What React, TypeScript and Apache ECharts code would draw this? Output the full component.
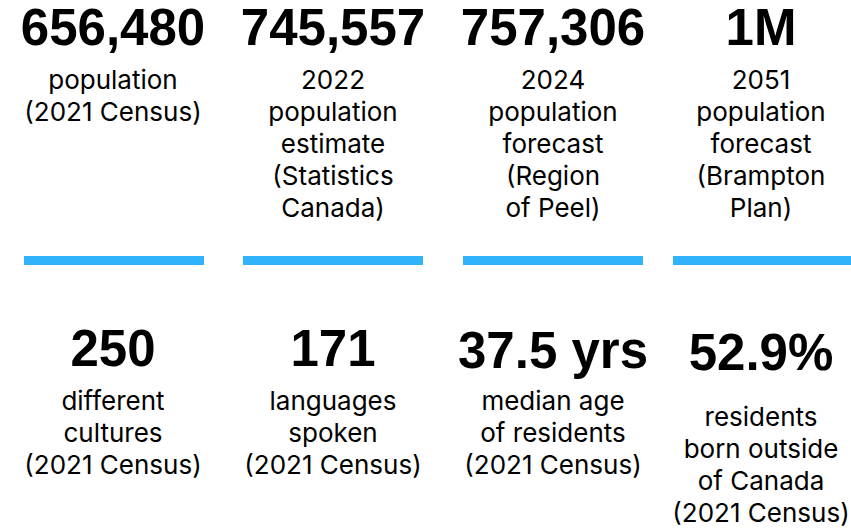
import React, { useEffect, useRef } from "react";
import * as echarts from "echarts";

const topValues = ["656,480", "745,557", "757,306", "1M"];
const topLabels = [
  ["population", "(2021 Census)"],
  ["2022", "population", "estimate", "(Statistics", "Canada)"],
  ["2024", "population", "forecast", "(Region", "of Peel)"],
  ["2051", "population", "forecast", "(Brampton", "Plan)"],
];
const bottomValues = ["250", "171", "37.5 yrs", "52.9%"];
const bottomLabels = [
  ["different", "cultures", "(2021 Census)"],
  ["languages", "spoken", "(2021 Census)"],
  ["median age", "of residents", "(2021 Census)"],
  ["residents", "born outside", "of Canada", "(2021 Census)"],
];

const colCenters = [113, 333, 553, 761];
const barSpans = [
  [24, 204],
  [243, 423],
  [463, 643],
  [673, 851],
];
const bottomLabelStart = [400, 400, 400, 416];
const bottomValueY = [348, 348, 350, 352];

export default function App() {
  const ref = useRef<HTMLDivElement>(null);
  useEffect(() => {
    if (!ref.current) return;
    const chart = echarts.init(ref.current, null, { renderer: "svg" });
    const numFont = "'Liberation Sans', Arial, sans-serif";
    const labFont = "Inter, 'Liberation Sans', sans-serif";
    const elements: any[] = [];
    topValues.forEach((v, i) => {
      elements.push({
        type: "text",
        x: colCenters[i],
        y: 27,
        style: {
          text: v,
          fontFamily: numFont,
          fontWeight: "bold",
          fontSize: 51,
          fill: "#000",
          align: "center",
          verticalAlign: "middle",
        },
      });
      elements.push({
        type: "text",
        x: colCenters[i],
        y: 79 - 16,
        style: {
          text: topLabels[i].join("\n"),
          fontFamily: labFont,
          fontSize: 26,
          lineHeight: 32,
          fill: "#000",
          align: "center",
          verticalAlign: "top",
        },
      });
      elements.push({
        type: "rect",
        shape: {
          x: barSpans[i][0],
          y: 256,
          width: barSpans[i][1] - barSpans[i][0],
          height: 9,
        },
        style: { fill: "#31b3fc" },
      });
    });
    bottomValues.forEach((v, i) => {
      elements.push({
        type: "text",
        x: colCenters[i],
        y: bottomValueY[i],
        style: {
          text: v,
          fontFamily: numFont,
          fontWeight: "bold",
          fontSize: 51,
          fill: "#000",
          align: "center",
          verticalAlign: "middle",
        },
      });
      elements.push({
        type: "text",
        x: colCenters[i],
        y: bottomLabelStart[i] - 16,
        style: {
          text: bottomLabels[i].join("\n"),
          fontFamily: labFont,
          fontSize: 26,
          lineHeight: 32,
          fill: "#000",
          align: "center",
          verticalAlign: "top",
        },
      });
    });
    chart.setOption({
      animation: false,
      backgroundColor: "#fff",
      graphic: { elements },
    });
    return () => chart.dispose();
  }, []);
  return (
    <div
      ref={ref}
      style={{ position: "fixed", left: 0, top: 0, width: 851, height: 528 }}
    />
  );
}
